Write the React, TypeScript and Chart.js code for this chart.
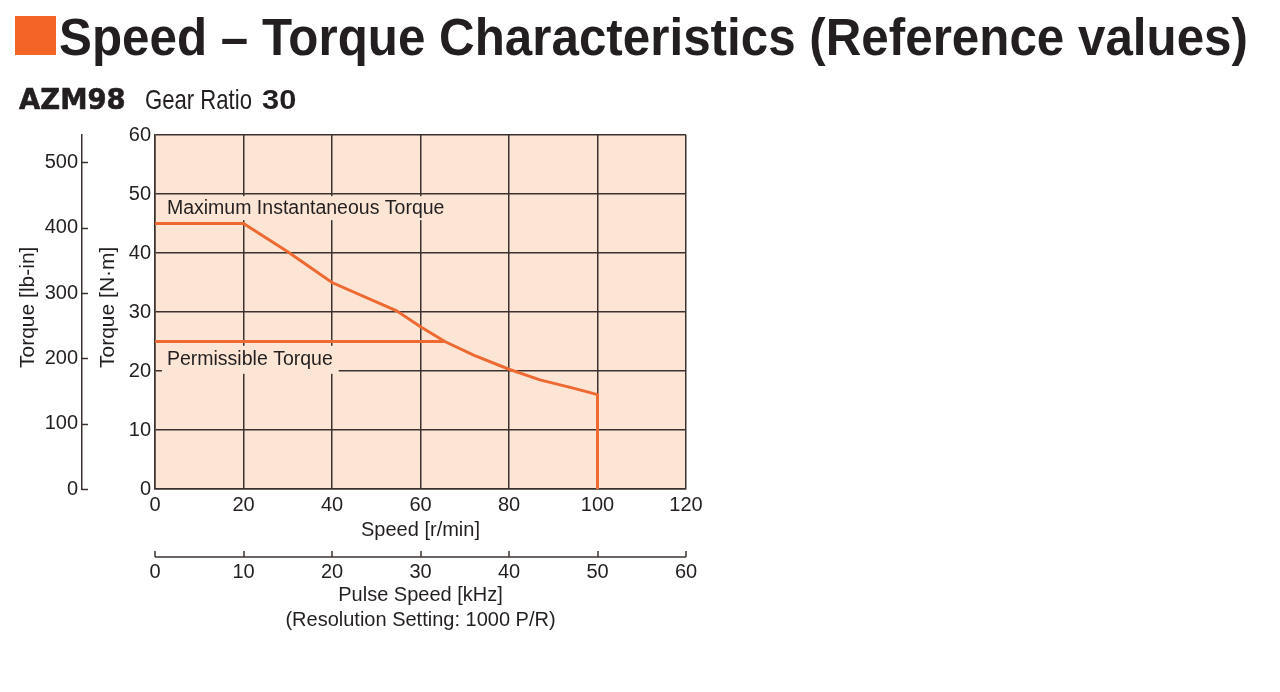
import React, { useEffect, useLayoutEffect, useRef } from "react";
import { Chart, registerables } from "chart.js";

Chart.register(...registerables);

// ---------- data ----------
const speedMax = [0, 20, 30, 40, 54.6, 60, 65.5, 72, 80, 87, 94.5, 100, 100];
const torqueMax = [45, 45, 40.2, 35, 30.2, 27.5, 25, 22.7, 20.3, 18.5, 17.1, 16, 0];
const speedPerm = [0, 65.5];
const torquePerm = [25, 25];

const curveLabels = ["Maximum Instantaneous Torque", "Permissible Torque"];
const curveLabelSpeed = [2.7, 2.7];
const curveLabelTorque = [47.6, 21.9];

const speedRange = [0, 120, 20];
const pulseRange = [0, 60, 10];
const torqueNmRange = [0, 60, 10];
const torqueLbinRange = [0, 542, 100];

const titleText = "Speed – Torque Characteristics (Reference values)";
const modelText = "AZM98";
const gearText = "Gear Ratio";
const ratioText = "30";
const xTitle = "Speed [r/min]";
const x2Title = ["Pulse Speed [kHz]", "(Resolution Setting: 1000 P/R)"];
const yTitle = "Torque [N·m]";
const y2Title = "Torque [lb-in]";

// ---------- styles ----------
const ORANGE = "#ee6a32";
const SQUARE = "#f26526";
const PLOT_BG = "#fde5d5";
const GRID = "#3b3230";
const TEXT = "#231f20";
const FONT = "'Liberation Sans', Arial, Helvetica, sans-serif";

const decorPlugin = {
  id: "decor",
  beforeDraw(chart: any) {
    const { ctx, chartArea: a } = chart;
    ctx.save();
    ctx.fillStyle = PLOT_BG;
    ctx.fillRect(a.left, a.top, a.right - a.left, a.bottom - a.top);
    ctx.restore();
  },
  beforeDatasetsDraw(chart: any) {
    const { ctx, scales } = chart;
    ctx.save();
    ctx.font = `19.5px ${FONT}`;
    ctx.textBaseline = "middle";
    ctx.textAlign = "left";
    const halfH = [12, 14];
    curveLabels.forEach((lbl, i) => {
      const x = scales.x.getPixelForValue(curveLabelSpeed[i]);
      const y = scales.y.getPixelForValue(curveLabelTorque[i]);
      const w = ctx.measureText(lbl).width;
      ctx.fillStyle = PLOT_BG;
      ctx.fillRect(x - 5, y - halfH[i], w + 11, halfH[i] * 2);
      ctx.fillStyle = TEXT;
      ctx.fillText(lbl, x, y);
    });
    ctx.restore();
  },
  afterDraw(chart: any) {
    const { ctx, scales, chartArea } = chart;
    ctx.save();
    ctx.strokeStyle = GRID;
    ctx.lineWidth = 1.5;
    // inward ticks of the lb-in axis
    const y2 = scales.y2;
    y2.ticks.forEach((t: any) => {
      const py = Math.round(y2.getPixelForValue(t.value)) + 0.5;
      ctx.beginPath();
      ctx.moveTo(y2.right, py);
      ctx.lineTo(y2.right + 6, py);
      ctx.stroke();
    });
    // pulse-speed axis line and upward ticks
    const x2 = scales.x2;
    const ly = x2.top + 12;
    ctx.beginPath();
    ctx.moveTo(x2.left, ly);
    ctx.lineTo(x2.right, ly);
    ctx.stroke();
    x2.ticks.forEach((t: any) => {
      const px = Math.round(x2.getPixelForValue(t.value));
      ctx.beginPath();
      ctx.moveTo(px, ly - 6);
      ctx.lineTo(px, ly);
      ctx.stroke();
    });
    // vertical axis titles (start-aligned at the same height)
    ctx.fillStyle = TEXT;
    ctx.font = `21px ${FONT}`;
    ctx.textAlign = "left";
    ctx.textBaseline = "middle";
    const baseY = chartArea.bottom - 121;
    [
      [y2Title, scales.y2.left + 28],
      [yTitle, scales.y.left + 26],
    ].forEach(([txt, x]: any) => {
      ctx.save();
      ctx.translate(x, baseY);
      ctx.rotate(-Math.PI / 2);
      ctx.fillText(txt, 0, 0);
      ctx.restore();
    });
    ctx.restore();
  },
};

export default function App() {
  const canvasRef = useRef<HTMLCanvasElement>(null);
  const titleRef = useRef<HTMLSpanElement>(null);

  useLayoutEffect(() => {
    const el = titleRef.current;
    if (!el) return;
    el.style.transform = "none";
    const w = el.getBoundingClientRect().width;
    el.style.transform = `scaleX(${1189 / w})`;
  }, []);

  useEffect(() => {
    if (!canvasRef.current) return;
    Chart.defaults.font.family = FONT;
    Chart.defaults.color = TEXT;
    const tickFont = { size: 20, family: FONT };
    const chart = new Chart(canvasRef.current, {
      type: "line",
      data: {
        datasets: [
          {
            label: curveLabels[0],
            data: speedMax.map((s, i) => ({ x: s, y: torqueMax[i] })),
            borderColor: ORANGE,
            borderWidth: 3,
            pointRadius: 0,
            tension: 0,
            fill: false,
            xAxisID: "x",
            yAxisID: "y",
          },
          {
            label: curveLabels[1],
            data: speedPerm.map((s, i) => ({ x: s, y: torquePerm[i] })),
            borderColor: ORANGE,
            borderWidth: 3,
            pointRadius: 0,
            tension: 0,
            fill: false,
            xAxisID: "x",
            yAxisID: "y",
          },
        ],
      },
      options: {
        animation: false,
        responsive: false,
        events: [],
        layout: { padding: { left: 0, top: 135, right: 594, bottom: 57 } },
        plugins: { legend: { display: false }, tooltip: { enabled: false } },
        scales: {
          x: {
            type: "linear",
            position: "bottom",
            weight: 0,
            min: speedRange[0],
            max: speedRange[1],
            ticks: { stepSize: speedRange[2], font: tickFont, padding: 4, color: TEXT, maxRotation: 0 },
            grid: { color: GRID, lineWidth: 1.5, drawTicks: false },
            border: { display: true, color: GRID, width: 1.5 },
            title: { display: true, text: xTitle, font: { size: 20 }, color: TEXT, padding: { top: 0, bottom: 3 } },
            afterFit: (s: any) => { s.height = 56; },
          },
          x2: {
            type: "linear",
            position: "bottom",
            weight: 1,
            min: pulseRange[0],
            max: pulseRange[1],
            ticks: { stepSize: pulseRange[2], font: tickFont, padding: 15, color: TEXT, maxRotation: 0 },
            grid: { display: false, drawTicks: false },
            border: { display: false },
            title: { display: true, text: x2Title, font: { size: 20, lineHeight: 1.25 }, color: TEXT, padding: { top: 0, bottom: 2.5 } },
            afterFit: (s: any) => { s.height = 90; },
          },
          y: {
            type: "linear",
            position: "left",
            weight: 0,
            min: torqueNmRange[0],
            max: torqueNmRange[1],
            ticks: { stepSize: torqueNmRange[2], font: tickFont, padding: 4, color: TEXT },
            grid: { color: GRID, lineWidth: 1.5, drawTicks: false },
            border: { display: true, color: GRID, width: 1.5 },
            afterFit: (s: any) => { s.width = 73; },
          },
          y2: {
            type: "linear",
            position: "left",
            weight: 1,
            min: torqueLbinRange[0],
            max: torqueLbinRange[1],
            ticks: { stepSize: torqueLbinRange[2], font: tickFont, padding: 4, color: TEXT, includeBounds: false },
            grid: { display: false, drawTicks: false },
            border: { display: true, color: GRID, width: 1.5 },
            afterFit: (s: any) => { s.width = 82; },
          },
        },
      } as any,
      plugins: [decorPlugin],
    });
    return () => chart.destroy();
  }, []);

  const abs: React.CSSProperties = { position: "absolute", whiteSpace: "nowrap", transformOrigin: "0 0", color: TEXT };

  return (
    <div style={{ position: "absolute", left: 0, top: 0, width: 1280, height: 692, background: "#fff", overflow: "hidden" }}>
      <canvas ref={canvasRef} width={1280} height={692} style={{ position: "absolute", left: 0, top: 0, width: 1280, height: 692 }} />
      <div style={{ position: "absolute", left: 15, top: 16, width: 41, height: 39, background: SQUARE }} />
      <span ref={titleRef} style={{ ...abs, left: 59, top: 12, font: `bold 51px ${FONT}`, lineHeight: "51px" }}>{titleText}</span>
      <span style={{ ...abs, left: 19, top: 86, font: `bold 28px 'DejaVu Sans', sans-serif`, lineHeight: "28px", transform: "scaleX(0.98)", WebkitTextStroke: "0.6px " + TEXT }}>{modelText}</span>
      <span style={{ ...abs, left: 145, top: 86, font: `28px ${FONT}`, lineHeight: "28px", transform: "scaleX(0.79)" }}>{gearText}</span>
      <span style={{ ...abs, left: 262, top: 86, font: `bold 28px ${FONT}`, lineHeight: "28px", transform: "scaleX(1.1)" }}>{ratioText}</span>
    </div>
  );
}
